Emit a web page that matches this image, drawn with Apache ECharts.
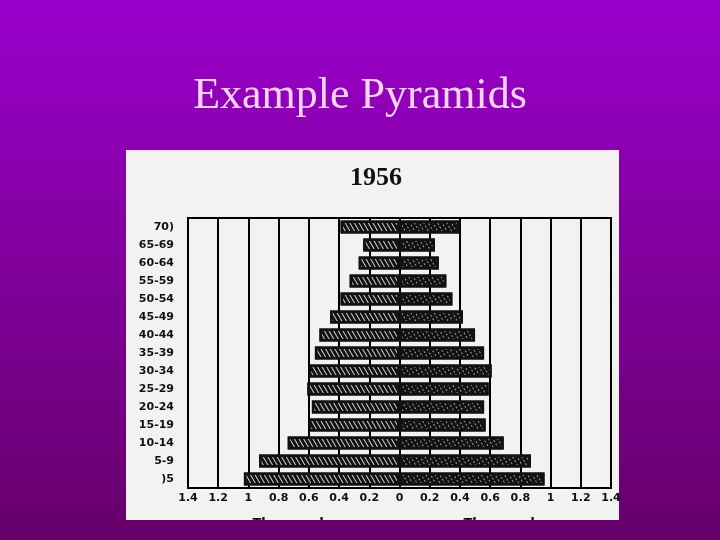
<!DOCTYPE html>
<html>
<head>
<meta charset="utf-8">
<script src="https://cdn.jsdelivr.net/npm/echarts@6/dist/echarts.min.js"></script>
<style>
html,body{margin:0;padding:0;background:#800099;}
#chart{width:720px;height:540px;}
</style>
</head>
<body>
<div id="chart"></div>
<script>
// Age groups, top to bottom as printed
var ageGroups = ["70)", "65-69", "60-64", "55-59", "50-54", "45-49", "40-44", "35-39", "30-34", "25-29", "20-24", "15-19", "10-14", "5-9", ")5"];
// Left side (thousands)
var leftValues = [0.39, 0.24, 0.27, 0.33, 0.39, 0.46, 0.53, 0.56, 0.60, 0.61, 0.58, 0.60, 0.74, 0.93, 1.03];
// Right side (thousands)
var rightValues = [0.40, 0.235, 0.26, 0.31, 0.35, 0.42, 0.50, 0.56, 0.61, 0.59, 0.56, 0.57, 0.69, 0.87, 0.96];
var slideTitle = "Example Pyramids";
var chartYear = "1956";
var unitLabel = "Thousands";

var bg = {type:'linear', x:0, y:0, x2:0, y2:540, global:true,
  colorStops:[{offset:0, color:'#9a00cc'},{offset:1, color:'#66006a'}]};

var chart = echarts.init(document.getElementById('chart'));
chart.setOption({
  animation:false,
  backgroundColor: bg,
  graphic:[
    {type:'rect', z:-5, shape:{x:126, y:150, width:493, height:370}, style:{fill:'#f2f2f0'}},
    {type:'text', z:5, x:360, y:96, style:{text:slideTitle, font:'44px "Liberation Serif"', fill:'#f8d4fa', align:'center', verticalAlign:'middle'}},
    {type:'text', z:5, x:376, y:178, style:{text:chartYear, font:'bold 26px "Liberation Serif"', fill:'#111', align:'center', verticalAlign:'middle'}},
    {type:'text', z:5, x:292, y:524, style:{text:unitLabel, font:'bold 13px "DejaVu Sans"', fill:'#111', align:'center', verticalAlign:'middle'}},
    {type:'text', z:5, x:503, y:524, style:{text:unitLabel, font:'bold 13px "DejaVu Sans"', fill:'#111', align:'center', verticalAlign:'middle'}},
    {type:'rect', z:100, shape:{x:0, y:520, width:720, height:20}, style:{fill:bg}}
  ],
  grid:{left:188, top:218, width:423, height:270, show:true, borderColor:'#000', borderWidth:2, backgroundColor:'transparent'},
  xAxis:{
    type:'value', min:-1.4, max:1.4, interval:0.2,
    axisLine:{show:false}, axisTick:{show:false},
    splitLine:{show:true, lineStyle:{color:'#000', width:2}},
    axisLabel:{margin:5, color:'#111', fontFamily:'DejaVu Sans', fontWeight:'bold', fontSize:11,
      formatter:function(v){return String(Math.round(Math.abs(v)*10)/10);}}
  },
  yAxis:{
    type:'category', data:ageGroups, inverse:true,
    axisLine:{show:false}, axisTick:{show:false}, splitLine:{show:false},
    axisLabel:{margin:14, color:'#111', fontFamily:'DejaVu Sans', fontWeight:'bold', fontSize:11}
  },
  series:[
    {type:'bar', stack:'p', barWidth:13, data:leftValues.map(function(v){return -v;}),
      itemStyle:{color:'#111', borderColor:'#111', borderWidth:2.5,
        decal:{symbol:'rect', symbolSize:1, dashArrayX:[1,0], dashArrayY:[0.8,2.6], rotation:Math.PI/3, color:'rgba(255,255,255,0.8)'}}},
    {type:'bar', stack:'p', barWidth:13, data:rightValues,
      itemStyle:{color:'#111', borderColor:'#111', borderWidth:2.5,
        decal:{symbol:'rect', symbolSize:1, dashArrayX:[2,1.5], dashArrayY:[0.8,2.6], rotation:Math.PI/3, color:'rgba(255,255,255,0.6)'}}}
  ]
});
</script>
</body>
</html>
